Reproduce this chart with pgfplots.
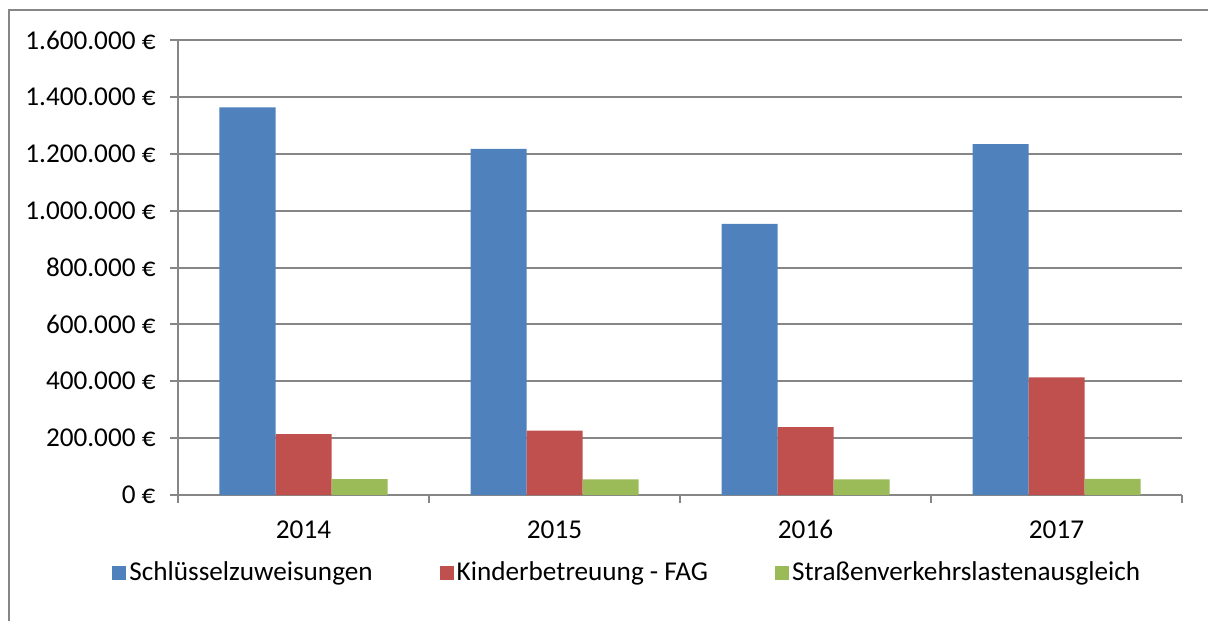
\documentclass[border=0pt]{standalone}
\usepackage{fontspec}
\setmainfont{Carlito}
\usepackage{pgfplots}
\pgfplotsset{compat=1.18}
\definecolor{sblue}{HTML}{4F81BD}
\definecolor{sred}{HTML}{C0504D}
\definecolor{sgreen}{HTML}{9BBB59}
\definecolor{axgray}{HTML}{868686}
\begin{document}
\fontsize{13.6pt}{15pt}\selectfont
\begin{tikzpicture}
\useasboundingbox (0,0) rectangle (604pt,-310.5pt);
\draw[axgray, line width=1pt] (4.5pt,-310.5pt) -- (4.5pt,-5pt) -- (604pt,-5pt);
\begin{axis}[
    at={(89pt,-247.5pt)}, anchor=south west,
    scale only axis, width=502pt, height=227.5pt,
    ybar=0pt, bar width=28pt,
    xmin=-0.5, xmax=3.5, ymin=0, ymax=1600000,
    xtick={0,1,2,3}, xticklabels={2014,2015,2016,2017},
    minor xtick={-0.5,0.5,1.5,2.5,3.5},
    major x tick style={draw=none},
    ytick={0,200000,400000,600000,800000,1000000,1200000,1400000,1600000},
    yticklabels={0 €,200.000 €,400.000 €,600.000 €,800.000 €,1.000.000 €,1.200.000 €,1.400.000 €,1.600.000 €},
    scaled y ticks=false,
    tick align=outside, major tick length=4pt, minor tick length=4pt,
    tick style={axgray, line width=1pt},
    axis x line*=bottom, axis y line*=left,
    axis line style={axgray, line width=1pt, -},
    ymajorgrids, grid style={axgray, line width=1pt},
    xticklabel style={yshift=-4pt},
    yticklabel style={xshift=-2.5pt},
    legend columns=3,
    legend style={draw=none, fill=none, at={(0.448,-0.171)}, anchor=center,
        /tikz/every even column/.append style={column sep=32pt},
        nodes={inner sep=1.5pt}},
    legend image code/.code={\fill[#1] (0pt,-3.5pt) rectangle (7pt,3.5pt);},
]
\addplot[fill=sblue, draw=none] coordinates {(0,1363000) (1,1217000) (2,953000) (3,1234000)};
\addplot[fill=sred, draw=none] coordinates {(0,214500) (1,226000) (2,239000) (3,414000)};
\addplot[fill=sgreen, draw=none] coordinates {(0,56000) (1,55000) (2,55000) (3,57000)};
\legend{Schlüsselzuweisungen, Kinderbetreuung - FAG, Straßenverkehrslastenausgleich}
\end{axis}
\end{tikzpicture}
\end{document}
